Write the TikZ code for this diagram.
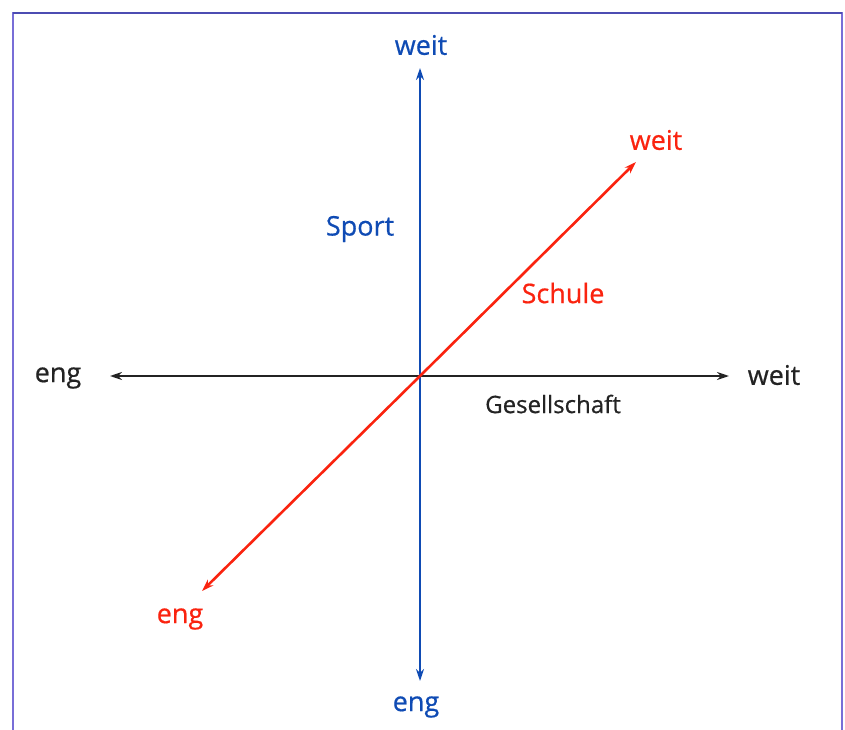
\documentclass[tikz,border=0pt]{standalone}
\usepackage{fontspec}
\setmainfont{Open Sans}
\newfontfamily\labfont{Open Sans}[FakeBold=0.6]
\usetikzlibrary{arrows.meta}
\definecolor{axisblue}{RGB}{15,75,180}
\definecolor{axisred}{RGB}{250,35,15}
\definecolor{axisblack}{RGB}{35,35,35}
\definecolor{framecol}{RGB}{120,110,215}
\tikzset{
  axis/.style={line width=2.6pt,-{Stealth[length=12pt,width=8pt]}},
  lab/.style={inner sep=0pt,font=\labfont\fontsize{27}{30}\selectfont},
  small lab/.style={inner sep=0pt,font=\labfont\fontsize{24}{27}\selectfont}
}
\begin{document}
\begin{tikzpicture}[x=1pt,y=-1pt]
\useasboundingbox (0,0) rectangle (845,730);
% frame, open at the bottom
\draw[framecol,line width=2.5pt] (13,731) -- (13,13) -- (842,13) -- (842,731);
\draw[gray!60!blue,line width=1.2pt] (13,13) -- (842,13);
% axes
\coordinate (O) at (420,376);
\coordinate (xl) at (110,376);
\coordinate (xr) at (729,376);
\coordinate (yt) at (420,68);
\coordinate (yb) at (420,681);
\coordinate (zl) at (202,591);
\coordinate (zr) at (636,162);
\draw[axis,axisblack] (O) -- (xr);
\draw[axis,axisblack] (O) -- (xl);
\draw[axis,axisblue] (O) -- (yt);
\draw[axis,axisblue] (O) -- (yb);
\draw[axis,axisred] (O) -- (zr);
\draw[axis,axisred] (O) -- (zl);
% labels
\node[lab,axisblue] (ytop) at (421,45) {weit};
\node[lab,axisblue] (ybot) at (416,707) {eng};
\node[lab,axisblack] (xleft) at (58,378) {eng};
\node[lab,axisblack] (xright) at (774,375) {weit};
\node[lab,axisred] (ztop) at (656,140) {weit};
\node[lab,axisred] (zbot) at (180,619) {eng};
\node[lab,axisblue] (sport) at (360,229) {Sport};
\node[lab,axisred] (schule) at (563,293) {Schule};
\node[small lab,axisblack] (ges) at (553,404) {Gesellschaft};
\end{tikzpicture}
\end{document}
